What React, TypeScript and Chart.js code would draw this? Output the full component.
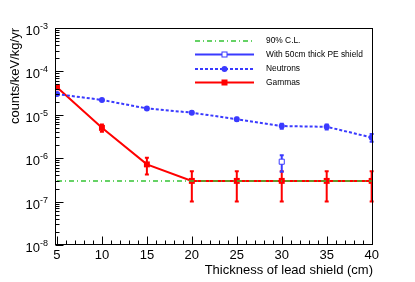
import React, { useEffect, useRef } from 'react';
import { Chart, registerables } from 'chart.js';

Chart.register(...registerables);

const FONT = '"Liberation Sans", Arial, Helvetica, sans-serif';

// ---- data ----
const thickness = [5, 10, 15, 20, 25, 30, 35, 40];
const neutrons = [3.0e-5, 2.2e-5, 1.4e-5, 1.12e-5, 7.9e-6, 5.5e-6, 5.3e-6, 3.0e-6];
const neutronErr = [1.5e-6, 1.2e-6, 0.9e-6, 0.7e-6, 0.6e-6, 0.7e-6, 0.7e-6, 0.6e-6];
const gammas = [4.3e-5, 5.0e-6, 7.2e-7, 3e-7, 3e-7, 3e-7, 3e-7, 3e-7];
const gammaErr = [3e-6, 0.95e-6, 3.0e-7, 2e-7, 2e-7, 2e-7, 2e-7, 2e-7];
const clThickness = [5, 40];
const clValue = [3e-7, 3e-7];
const peThickness = [30];
const peValue = [8.3e-7];
const peErr = [3.4e-7];

const xTickLabels = ['5', '10', '15', '20', '25', '30', '35', '40'];
const yTickExponents = ['-8', '-7', '-6', '-5', '-4', '-3'];

const legendLabels = ['90% C.L.', 'With 50cm thick PE shield', 'Neutrons', 'Gammas'];

const BLUE = '#3a3aff';
const RED = '#ff0000';
const GREEN = '#33c433';

const pts = (xs: number[], ys: number[]) => xs.map((x, i) => ({ x, y: ys[i] }));

export default function App() {
  const ref = useRef<HTMLCanvasElement>(null);

  useEffect(() => {
    const canvas = ref.current!;

    const errorBars = {
      id: 'errorBars',
      beforeDatasetsDraw(chart: any) {
        const { ctx, scales } = chart;
        const xs = scales.x, ys = scales.y;
        const draw = (xv: number[], yv: number[], ev: number[], color: string) => {
          ctx.save();
          ctx.strokeStyle = color;
          ctx.lineWidth = 2;
          xv.forEach((x, i) => {
            const px = xs.getPixelForValue(x);
            const pt = ys.getPixelForValue(yv[i] + ev[i]);
            const pb = ys.getPixelForValue(Math.max(yv[i] - ev[i], 1e-9));
            ctx.beginPath();
            ctx.moveTo(px, pt);
            ctx.lineTo(px, pb);
            ctx.moveTo(px - 2, pt);
            ctx.lineTo(px + 2, pt);
            ctx.moveTo(px - 2, pb);
            ctx.lineTo(px + 2, pb);
            ctx.stroke();
          });
          ctx.restore();
        };
        draw(thickness, gammas, gammaErr, RED);
        draw(thickness, neutrons, neutronErr, BLUE);
        draw(peThickness, peValue, peErr, BLUE);
      },
    };

    const frame = {
      id: 'frameAxes',
      afterDraw(chart: any) {
        const { ctx, chartArea, scales } = chart;
        const { left, right, top, bottom } = chartArea;
        const xs = scales.x, ys = scales.y;
        ctx.save();
        ctx.strokeStyle = '#000';
        ctx.lineWidth = 1;
        ctx.strokeRect(Math.round(left) + 0.5, Math.round(top) + 0.5, Math.round(right - left) - 1, Math.round(bottom - top) - 1);
        const L = Math.round(left) + 0.5;
        const B = Math.round(bottom) - 0.5;
        ctx.beginPath();
        // y ticks
        for (let d = -8; d <= -3; d++) {
          const py = Math.round(ys.getPixelForValue(Math.pow(10, d))) + 0.5;
          ctx.moveTo(L, py);
          ctx.lineTo(L + 8, py);
          if (d < -3) {
            for (let m = 2; m <= 9; m++) {
              const pm = Math.round(ys.getPixelForValue(m * Math.pow(10, d))) + 0.5;
              ctx.moveTo(L, pm);
              ctx.lineTo(L + 4, pm);
            }
          }
        }
        // x ticks
        for (let t = 5; t <= 40; t++) {
          const px = Math.round(xs.getPixelForValue(t)) + 0.5;
          const len = t % 5 === 0 ? 8 : 4;
          ctx.moveTo(px, B);
          ctx.lineTo(px, B - len);
        }
        ctx.stroke();

        ctx.fillStyle = '#000';
        // x tick labels
        ctx.font = `13px ${FONT}`;
        ctx.textAlign = 'center';
        ctx.textBaseline = 'alphabetic';
        xTickLabels.forEach((lab) => {
          const px = xs.getPixelForValue(Number(lab));
          ctx.fillText(lab, px, bottom + 14);
        });
        // y tick labels
        yTickExponents.forEach((ex) => {
          const py = ys.getPixelForValue(Math.pow(10, Number(ex)));
          ctx.font = `9px ${FONT}`;
          const sw = ctx.measureText(ex).width;
          ctx.textAlign = 'right';
          const supRight = left - 7;
          ctx.fillText(ex, supRight, py + 1);
          ctx.font = `13px ${FONT}`;
          ctx.fillText('10', supRight - sw, py + 7);
        });
        // axis titles
        ctx.font = `13px ${FONT}`;
        ctx.textAlign = 'right';
        ctx.fillText('Thickness of lead shield (cm)', right, 274);
        ctx.save();
        ctx.translate(19, top);
        ctx.rotate(-Math.PI / 2);
        ctx.textAlign = 'right';
        ctx.fillText('counts/keV/kg/yr', 0, 0);
        ctx.restore();

        // legend
        const lx0 = 195, lx1 = 254, lxm = (lx0 + lx1) / 2, tx = 266;
        const rows = [41, 54.5, 69, 82.5];
        ctx.font = `8.4px ${FONT}`;
        ctx.textAlign = 'left';
        ctx.textBaseline = 'middle';
        legendLabels.forEach((lab, i) => {
          const y = rows[i];
          ctx.save();
          ctx.beginPath();
          if (i === 0) {
            ctx.strokeStyle = GREEN; ctx.lineWidth = 1.5; ctx.setLineDash([5, 3, 1, 3]);
          } else if (i === 1) {
            ctx.strokeStyle = BLUE; ctx.lineWidth = 2;
          } else if (i === 2) {
            ctx.strokeStyle = BLUE; ctx.lineWidth = 2; ctx.setLineDash([3, 2]);
          } else {
            ctx.strokeStyle = RED; ctx.lineWidth = 2;
          }
          ctx.moveTo(lx0, y);
          ctx.lineTo(lx1, y);
          ctx.stroke();
          ctx.setLineDash([]);
          if (i === 1) {
            ctx.fillStyle = '#fff';
            ctx.fillRect(lxm - 2.5, y - 2.5, 5, 5);
            ctx.strokeStyle = BLUE; ctx.lineWidth = 1;
            ctx.strokeRect(lxm - 2.5, y - 2.5, 5, 5);
          } else if (i === 2) {
            ctx.fillStyle = BLUE;
            ctx.beginPath(); ctx.arc(lxm, y, 3, 0, Math.PI * 2); ctx.fill();
          } else if (i === 3) {
            ctx.fillStyle = RED;
            ctx.fillRect(lxm - 3, y - 3, 6, 6);
          }
          ctx.restore();
          ctx.fillStyle = '#000';
          ctx.fillText(lab, tx, y);
        });
        ctx.restore();
      },
    };

    const chart = new Chart(canvas, {
      type: 'scatter',
      data: {
        datasets: [
          {
            label: '90% C.L.',
            data: pts(clThickness, clValue),
            showLine: true,
            borderColor: GREEN,
            borderWidth: 1.5,
            borderDash: [5, 3, 1, 3],
            pointRadius: 0,
            order: 0,
          },
          {
            label: 'With 50cm thick PE shield',
            data: pts(peThickness, peValue),
            showLine: false,
            borderColor: BLUE,
            backgroundColor: '#ffffff',
            pointStyle: 'rect',
            pointRadius: 3.6,
            pointBorderWidth: 1,
            order: 1,
          },
          {
            label: 'Neutrons',
            data: pts(thickness, neutrons),
            showLine: true,
            borderColor: BLUE,
            backgroundColor: BLUE,
            borderWidth: 2,
            borderDash: [3, 2],
            pointStyle: 'circle',
            pointRadius: 3,
            pointBorderWidth: 0,
            order: 2,
          },
          {
            label: 'Gammas',
            data: pts(thickness, gammas),
            showLine: true,
            borderColor: RED,
            backgroundColor: RED,
            borderWidth: 2,
            pointStyle: 'rect',
            pointRadius: 4.2,
            pointBorderWidth: 0,
            order: 3,
          },
        ],
      },
      options: {
        responsive: false,
        maintainAspectRatio: false,
        devicePixelRatio: 1,
        animation: false,
        layout: { padding: { left: 55, top: 28, right: 42, bottom: 37 } },
        plugins: { legend: { display: false }, tooltip: { enabled: false } },
        scales: {
          x: { type: 'linear', min: 4.78, max: 40.15, display: false },
          y: { type: 'logarithmic', min: 1e-8, max: 1e-3, display: false },
        },
      },
      plugins: [errorBars, frame],
    } as any);

    return () => chart.destroy();
  }, []);

  return (
    <div style={{ position: 'fixed', left: 0, top: 0, width: 415, height: 282, background: '#fff' }}>
      <canvas ref={ref} width={415} height={282} style={{ width: 415, height: 282, display: 'block' }} />
    </div>
  );
}
